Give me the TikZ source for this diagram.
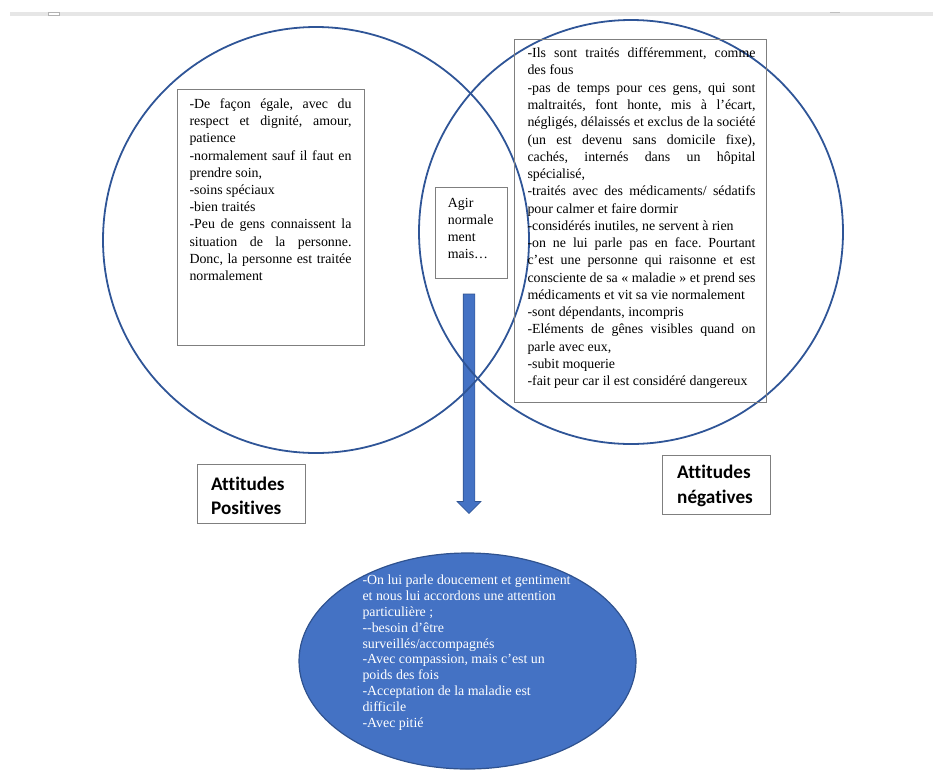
\documentclass[tikz,border=0pt]{standalone}
\usepackage{fontspec}
\setmainfont{Liberation Serif}[Ligatures=NoCommon]
\newfontfamily\calibri{Carlito}[Ligatures=NoCommon]
\usetikzlibrary{shapes.geometric}

\definecolor{vennblue}{HTML}{2F5597}
\definecolor{shapeblue}{HTML}{4472C4}
\definecolor{shapeedge}{HTML}{2F528F}
\definecolor{framegray}{HTML}{7F7F7F}
\definecolor{bargray}{HTML}{E6E6E6}

% one justified line, one ragged line
\newcommand{\jline}[1]{\hbox to \hsize{#1}}
\newcommand{\rline}[1]{\hbox{#1}}
% a block of lines: width, line pitch, lines
\newcommand{\bloc}[3]{\vtop{\hsize=#1\relax\fontsize{13.9pt}{#2}\selectfont\frenchspacing\lineskiplimit=-20pt\relax #3}}
\newcommand{\titre}[2]{\vtop{\calibri\bfseries\fontsize{19.2pt}{24.5pt}\selectfont\lineskiplimit=-20pt\relax\rline{#1}\rline{#2}}}

\begin{document}
\begin{tikzpicture}[x=1pt,y=-1pt,
	venn/.style={circle, draw=vennblue, line width=1.8pt, inner sep=0pt},
	frame/.style={rectangle, draw=framegray, line width=0.9pt, inner sep=0pt, outer sep=0pt, anchor=north west},
	words/.style={anchor=base west, inner sep=0pt}]

	\useasboundingbox (0,0) rectangle (933,769);

	% ruler of the page
	\fill[bargray] (10,12) rectangle (933,16);
	\filldraw[fill=white, draw=black!30, line width=0.5pt] (48.3,12) rectangle (59,15.3);
	\fill[black!25] (830,12) rectangle (840,13);

	% block arrow
	\filldraw[fill=shapeblue, draw=shapeedge, line width=0.6pt]
		(463.2,294) -- (474.8,294) -- (474.8,501.5) -- (481,501.5)
		-- (469,513.5) -- (457,501.5) -- (463.2,501.5) -- cycle;

	% the two sets
	\node (positif) [venn, minimum size=426pt] at (316,240) {};
	\node (negatif) [venn, minimum size=424pt] at (631,232) {};

	% text boxes
	\node (gauche) [frame, minimum width=187pt, minimum height=256pt] at (177.3,89) {};
	\node (gauchetxt) [words] at ([shift={(12,19.3)}]gauche.north west) {\bloc{162pt}{17.24pt}{%
		\jline{-De façon égale, avec du}
		\jline{respect et dignité, amour,}
		\rline{patience}
		\jline{-normalement sauf il faut en}
		\rline{prendre soin,}
		\rline{-soins spéciaux}
		\rline{-bien traités}
		\jline{-Peu de gens connaissent la}
		\jline{situation de la personne.}
		\jline{Donc, la personne est traitée}
		\rline{normalement}}};

	\node (droite) [frame, minimum width=251.7pt, minimum height=363pt] at (514.3,39.3) {};
	\node (droitetxt) [words] at ([shift={(13,18.4)}]droite.north west) {\bloc{228pt}{17.26pt}{%
		\jline{-Ils sont traités différemment, comme}
		\rline{des fous}
		\jline{-pas de temps pour ces gens, qui sont}
		\jline{maltraités, font honte, mis à l’écart,}
		\jline{négligés, délaissés et exclus de la société}
		\jline{(un est devenu sans domicile fixe),}
		\jline{cachés, internés dans un hôpital}
		\rline{spécialisé,}
		\jline{-traités avec des médicaments/ sédatifs}
		\rline{pour calmer et faire dormir}
		\rline{-considérés inutiles, ne servent à rien}
		\jline{-on ne lui parle pas en face. Pourtant}
		\jline{c’est une personne qui raisonne et est}
		\jline{consciente de sa « maladie » et prend ses}
		\rline{médicaments et vit sa vie normalement}
		\rline{-sont dépendants, incompris}
		\jline{-Eléments de gênes visibles quand on}
		\rline{parle avec eux,}
		\rline{-subit moquerie}
		\rline{-fait peur car il est considéré dangereux}}};

	\node (milieu) [frame, minimum width=72.7pt, minimum height=91.4pt] at (435,187.3) {};
	\node (milieutxt) [words] at ([shift={(12.7,20.4)}]milieu.north west) {\bloc{60pt}{16.9pt}{%
		\rline{Agir}
		\rline{normale}
		\rline{ment}
		\rline{mais…}}};

	% titles
	\node (posbox) [frame, minimum width=107.7pt, minimum height=59pt] at (197.3,464.5) {};
	\node (postxt) [words] at ([shift={(13.6,25.5)}]posbox.north west) {\titre{Attitudes}{Positives}};
	\node (negbox) [frame, minimum width=107.5pt, minimum height=59pt] at (662.5,455) {};
	\node (negtxt) [words] at ([shift={(14.5,23.5)}]negbox.north west) {\titre{Attitudes}{négatives}};

	% result
	\node (ensemble) [ellipse, fill=shapeblue, draw=shapeedge, line width=1.2pt, inner sep=0pt,
		minimum width=337pt, minimum height=216pt] at (467.5,661) {};
	\node (ensembletxt) [words, text=white] at ([shift={(-105.2,-76.2)}]ensemble.center) {\bloc{230pt}{15.8pt}{%
		\rline{-On lui parle doucement et gentiment}
		\rline{et nous lui accordons une attention}
		\rline{particulière ;}
		\rline{-{}-besoin d’être}
		\rline{surveillés/accompagnés}
		\rline{-Avec compassion, mais c’est un}
		\rline{poids des fois}
		\rline{-Acceptation de la maladie est}
		\rline{difficile}
		\rline{-Avec pitié}}};

\end{tikzpicture}
\end{document}
